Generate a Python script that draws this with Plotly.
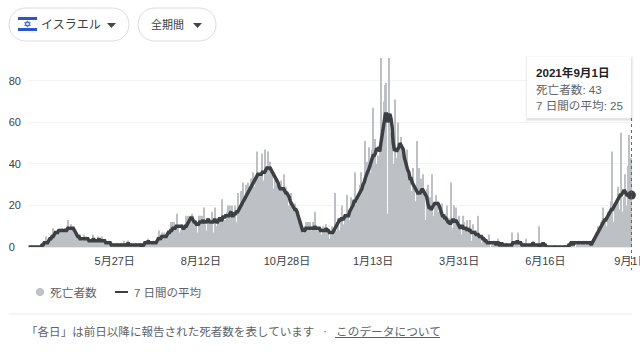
import pandas as pd
import plotly.graph_objects as go

START_DATE = "2020-03-11"
tick_dates = ["2020-05-27", "2020-08-12", "2020-10-28", "2021-01-13", "2021-03-31", "2021-06-16", "2021-09-01"]
tick_labels = ["5月27日", "8月12日", "10月28日", "1月13日", "3月31日", "6月16日", "9月1日"]
y_ticks = [0, 20, 40, 60, 80]
y_labels = ["0\u00a0\u00a0", "20", "40", "60", "80"]

deaths = [
    0,0,0,0,0,0,0, 0,0,0,0,0,1,1, 1,3,5,2,3,2,4, 6,9,8,6,7,8,7, 8,7,9,6,8,9,8, 13,8,9,11,10,7,6,
    6,5,4,3,6,4,2, 3,6,5,3,4,2,3, 2,3,6,4,2,3,5, 4,2,3,5,3,2,2, 1,2,3,1,1,0,1,
    1,0,2,1,0,1,2, 1,3,1,2,1,3,1, 0,2,1,0,1,2,1, 1,1,2,0,1,0,2, 3,2,4,3,1,2,3, 2,1,3,4,5,8,3,
    7,5,7,6,4,7,8, 7,12,9,12,12,6,10, 16,10,7,8,11,10,6, 9,15,11,15,15,12,16, 15,12,8,11,7,15,15,
    14,15,9,19,11,8,14, 14,9,13,17,7,5,19, 10,14,13,14,6,23,12, 9,13,17,20,11,20,13, 20,14,16,20,12,26,17,
    18,27,14,31,21,30,25, 31,29,25,33,33,36,29, 33,46,30,34,35,28,45, 32,47,38,35,46,30,41, 37,36,28,34,30,27,29,
    23,30,32,28,35,20,29,
    24,15,20,22,26,18,19, 21,12,18,14,8,11,8, 7,5,10,12,12,9,12, 12,8,12,7,17,9,7, 8,9,8,6,10,8,5,
    11,7,9,4,8,10,6, 6,26,4,8,14,8,13, 20,11,5,15,14,25,16, 13,24,18,14,19,36,20, 22,26,30,36,15,29,33,
    51,30,41,48,20,36,47,
    67,38,52,40,44,34,46, 91,42,55,70,78,79,16, 91,20,55,60,36,40,71, 43,60,48,25,53,47,44, 32,40,47,38,29,33,27,
    20,38,30,22,51,9,38, 28,33,23,35,24,13,28, 30,18,24,12,35,15,19, 25,22,12,17,8,18,21, 15,13,16,20,8,14,10,
    31,9,20,4,19,5,12,
    15,11,6,15,12,8,3, 13,4,7,13,3,11,8, 4,8,7,15,3,5,2, 4,4,3,1,2,1,6, 0,1,2,3,1,0,2, 4,1,0,2,1,1,0,
    2,1,1,0,1,7,2, 1,3,1,2,7,3,1, 0,1,2,1,4,0,1, 1,0,2,3,1,0,1, 1,10,0,2,0,1,0,
    0,1,0,0,0,0,0, 0,0,1,0,0,0,0, 0,0,0,0,1,0,0, 1,2,1,3,1,2,0, 1,2,3,0,1,2,3, 2,1,3,1,2,1,2,
    3,4,5,7,6,10,8, 9,12,13,19,14,10,8, 17,14,18,22,46,12,21, 22,15,29,18,12,55,17, 24,35,20,14,39,54,21,43,
]

average = [
    0,0,0,0,0,0,0, 0,0,0,0,0,1,1, 2,2,2,2,3,4,4, 5,5,6,7,7,7,8, 8,8,8,8,8,8,8, 9,9,9,9,9,9,8,
    7,6,5,5,4,4,4, 4,4,4,4,4,3,3, 3,3,4,3,3,3,3, 4,3,3,3,3,3,2, 2,2,2,2,1,1,1,
    1,1,1,1,1,1,1, 1,1,1,1,1,2,1, 1,1,1,1,1,1,1, 1,1,1,0,1,1,2, 2,2,3,2,2,2,2, 2,2,2,3,4,4,4,
    5,5,5,5,5,6,7, 7,8,8,9,9,9,10, 10,10,10,10,10,9,9, 10,10,11,12,13,14,14, 13,12,12,11,11,11,12,
    12,12,13,12,12,12,13, 13,12,12,12,12,13,13, 12,12,13,14,13,13,15, 14,15,15,15,15,16,17, 15,15,16,16,17,17,18,
    19,20,21,22,23,24,25, 26,27,28,29,30,31,32, 33,34,35,35,35,35,36, 36,36,37,38,38,38,38, 37,36,35,34,33,32,31,
    29,28,28,28,28,27,26,
    26,25,24,22,21,20,19, 18,18,17,15,13,11,10, 8,8,8,9,9,9,9, 9,9,9,9,10,9,9, 9,9,8,8,8,8,8,
    9,8,8,7,7,7,7, 8,9,10,11,12,13,13, 14,13,14,15,15,15,15, 17,18,19,20,22,22,23, 24,25,26,27,28,30,31,
    33,35,36,37,39,41,43,
    44,44,45,47,47,48,46, 50,53,56,60,64,64,60, 63,64,62,58,50,47,47, 46,47,48,50,49,48,47, 43,40,39,37,36,33,33,
    31,30,29,28,27,26,26, 26,27,28,27,26,25,24, 21,19,19,18,19,20,21, 21,21,21,20,18,16,15, 15,14,14,13,12,12,11,
    12,13,13,12,13,12,11,
    10,9,10,10,9,9,9, 8,9,8,8,7,7,7, 7,6,6,6,5,5,5, 4,4,3,3,2,2,2, 2,2,2,2,2,1,2, 2,1,1,2,1,1,1,
    1,1,1,1,1,1,2, 2,2,2,3,2,2,2, 1,1,1,1,1,1,1, 1,1,1,2,1,1,1, 1,1,0,1,1,2,1,
    1,0,0,0,0,0,0, 0,0,0,0,0,0,0, 0,0,0,0,0,0,0, 1,1,2,2,1,2,2, 2,2,2,2,2,2,2, 2,2,2,2,2,2,1,
    2,3,4,5,6,7,8, 9,10,11,12,13,13,14, 15,16,17,18,18,19,20, 21,22,23,24,25,25,26, 27,27,26,25,25,25,25,25,
]

assert len(deaths) == 540, f"deaths {len(deaths)}"
assert len(average) == 540, f"average {len(average)}"

W, H = 640, 352
ML, MR, MT, MB = 28, 8, 58, 105
FONT = "Liberation Sans, Noto Sans CJK JP, sans-serif"
BAR = "#bdc1c6"
LINE = "#3c4043"
TEXT = "#5f6368"
DARK = "#202124"

dates = pd.date_range(START_DATE, periods=len(deaths), freq="D")
half = pd.Timedelta(hours=12)


def px(x):
    return (x - ML) / (W - ML - MR)


def py(y):
    return (H - MB - y) / (H - MT - MB)


def rect(x0, y0, x1, y1, fill="white", line=None, lw=1):
    return dict(type="rect", xref="paper", yref="paper", x0=px(x0), x1=px(x1), y0=py(y0), y1=py(y1),
                fillcolor=fill, line=dict(color=line or "rgba(0,0,0,0)", width=lw if line else 0))


def poly(points, fill, line=None):
    d = "M " + " L ".join(f"{px(a):.5f},{py(b):.5f}" for a, b in points) + " Z"
    return dict(type="path", xref="paper", yref="paper", path=d, fillcolor=fill,
                line=dict(color=line or "rgba(0,0,0,0)", width=0.8 if line else 0))


def pill(x0, y0, x1, y1):
    r = (y1 - y0) / 2
    k = 0.5523 * r
    f = lambda a, b: f"{px(a):.5f},{py(b):.5f}"
    d = (f"M {f(x0 + r, y0)} L {f(x1 - r, y0)} "
         f"C {f(x1 - r + k, y0)} {f(x1, y0 + r - k)} {f(x1, y0 + r)} "
         f"C {f(x1, y0 + r + k)} {f(x1 - r + k, y1)} {f(x1 - r, y1)} "
         f"L {f(x0 + r, y1)} "
         f"C {f(x0 + r - k, y1)} {f(x0, y0 + r + k)} {f(x0, y0 + r)} "
         f"C {f(x0, y0 + r - k)} {f(x0 + r - k, y0)} {f(x0 + r, y0)} Z")
    return dict(type="path", xref="paper", yref="paper", path=d, fillcolor="white",
                line=dict(color="#dadce0", width=1))


def label(x, y, text, size=12, color=TEXT, anchor="left"):
    return dict(xref="paper", yref="paper", x=px(x), y=py(y), text=text, showarrow=False,
                xanchor=anchor, yanchor="middle", align="left", borderpad=0,
                font=dict(family=FONT, size=size, color=color))


fig = go.Figure()
fig.add_bar(x=dates, y=deaths, marker=dict(color=BAR, line=dict(width=0)), name="死亡者数")
fig.add_scatter(x=dates, y=average, mode="lines", line=dict(color=LINE, width=3.5), name="7 日間の平均",
                cliponaxis=False)
fig.add_scatter(x=[dates[-1]], y=[average[-1]], mode="markers", marker=dict(color=LINE, size=9),
                cliponaxis=False, showlegend=False)

shapes = [
    pill(9, 8, 129, 41),
    pill(138, 8, 216, 41),
    # flag
    rect(18, 16, 37, 32, fill="white", line="#e0e0e0", lw=0.5),
    rect(18, 17, 37, 20, fill="#2a56c6"),
    rect(18, 28, 37, 31, fill="#2a56c6"),
    poly([(27.5, 20.8), (30.3, 25.6), (24.7, 25.6)], "rgba(0,0,0,0)", "#2a56c6"),
    poly([(27.5, 27.2), (30.3, 22.4), (24.7, 22.4)], "rgba(0,0,0,0)", "#2a56c6"),
    # dropdown arrows
    poly([(107, 23), (116, 23), (111.5, 28)], "#444746"),
    poly([(193, 23), (202, 23), (197.5, 28)], "#444746"),
    # tooltip shadow and box
    rect(525, 56, 634, 122, fill="rgba(0,0,0,0.025)"),
    rect(526, 57, 633, 121, fill="rgba(0,0,0,0.035)"),
    rect(527, 58, 632, 120, fill="rgba(0,0,0,0.05)"),
    rect(527, 57, 631, 118, fill="white"),
    # hover rule
    dict(type="line", xref="x", yref="paper", x0=dates[-1], x1=dates[-1], y0=py(118), y1=py(270),
         line=dict(color="#5f6368", width=1, dash="dot")),
    # legend marks
    dict(type="circle", xref="paper", yref="paper", x0=px(36), x1=px(44), y0=py(288), y1=py(296),
         fillcolor=BAR, line=dict(width=0)),
    dict(type="line", xref="paper", yref="paper", x0=px(115), x1=px(128), y0=py(292), y1=py(292),
         line=dict(color=LINE, width=2)),
    # divider and link underline
    dict(type="line", xref="paper", yref="paper", x0=px(9), x1=px(632), y0=py(314), y1=py(314),
         line=dict(color="#e8eaed", width=1)),
    dict(type="line", xref="paper", yref="paper", x0=px(335), x1=px(440), y0=py(337.5), y1=py(337.5),
         line=dict(color=TEXT, width=1)),
]

annotations = [
    label(40, 25, "イスラエル", size=12, color="#3c4043"),
    label(150, 25, "全期間", size=11, color="#3c4043"),
    label(535, 72, "<b>2021年9月1日</b>", size=11.6, color=DARK),
    label(535, 89, "死亡者数: 43", size=11.6, color=TEXT),
    label(535, 105, "7 日間の平均: 25", size=11.6, color=TEXT),
    label(48.5, 292, "死亡者数", size=11.7, color=TEXT),
    label(133, 292, "7 日間の平均", size=11.5, color=TEXT),
    label(24.5, 331, "「各日」は前日以降に報告された死者数を表しています", size=11.55, color=TEXT),
    label(322, 331, "·", size=12, color=TEXT),
    label(334.5, 331, "このデータについて", size=11.7, color=TEXT),
]

fig.update_layout(
    width=W, height=H, autosize=False,
    margin=dict(l=ML, r=MR, t=MT, b=MB, pad=0, autoexpand=False),
    paper_bgcolor="white", plot_bgcolor="white",
    showlegend=False, bargap=0.06, barmode="overlay",
    shapes=shapes, annotations=annotations,
    font=dict(family=FONT, size=11, color="#3c4043"),
)
fig.update_xaxes(
    type="date", range=[dates[0] - half, dates[-1] + half], tickmode="array",
    tickvals=tick_dates, ticktext=tick_labels, showgrid=False, zeroline=False,
    showline=True, linecolor="#e8eaed", linewidth=1, ticks="", ticklabelstandoff=4,
    ticklabeloverflow="allow", tickangle=0, tickfont=dict(family=FONT, size=11, color="#3c4043"),
)
fig.update_yaxes(
    range=[0, 91], tickmode="array", tickvals=y_ticks, ticktext=y_labels, showgrid=True,
    gridcolor="#f1f3f4", gridwidth=1, zeroline=False, ticks="", ticklabelstandoff=6,
    tickfont=dict(family=FONT, size=11, color="#3c4043"),
)

page_css = (
    "var s=document.createElement('style');"
    "s.textContent='html,body{margin:0!important;padding:0;width:640px;height:352px;overflow:hidden!important}';"
    "document.head.appendChild(s);"
)
fig.write_html("out.html", config=dict(displayModeBar=False), post_script=page_css)
